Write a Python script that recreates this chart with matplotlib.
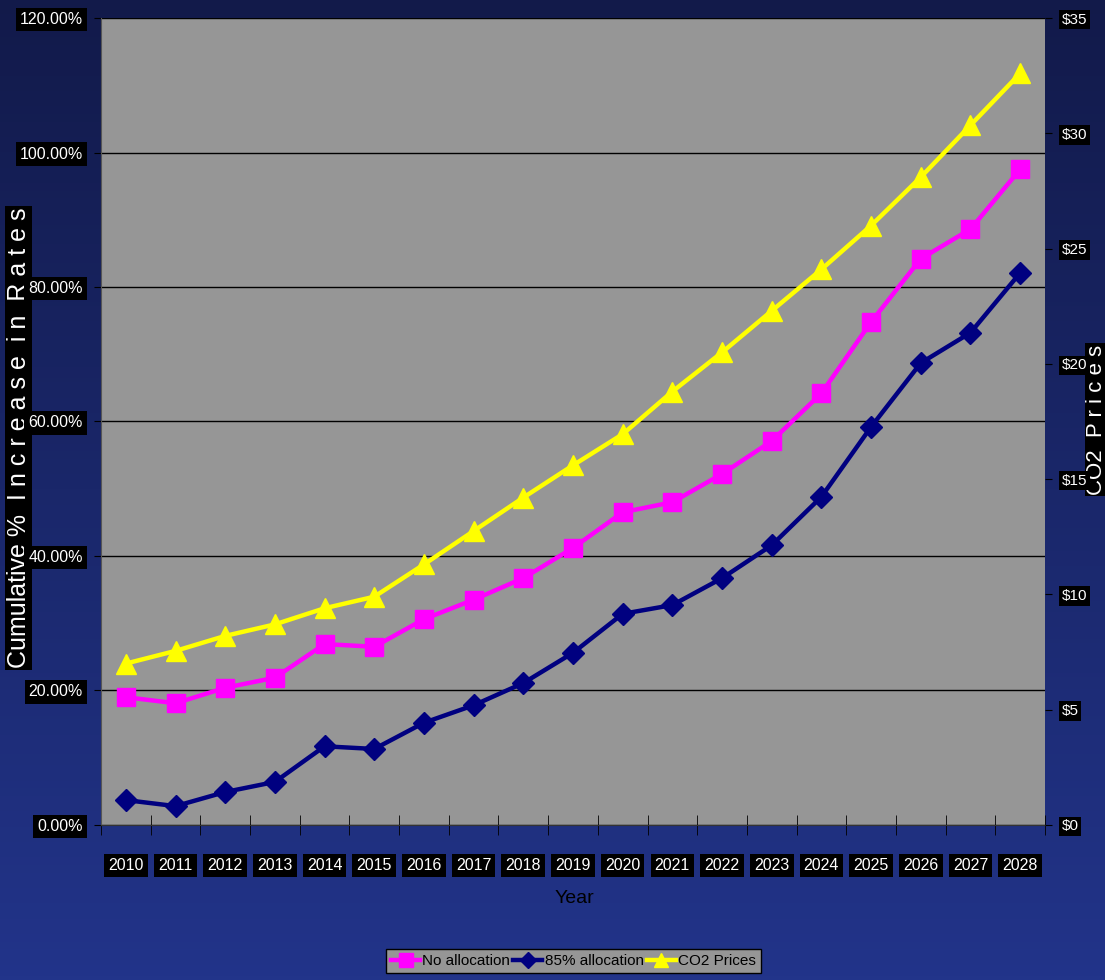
import matplotlib.pyplot as plt
import numpy as np
from matplotlib.colors import LinearSegmentedColormap

plt.rcParams['font.family'] = ['Liberation Sans', 'DejaVu Sans']

# data
years = [str(y) for y in range(2010, 2029)]
no_allocation = [19.0, 18.1, 20.4, 21.9, 26.9, 26.5, 30.6, 33.5, 36.7, 41.2,
                 46.5, 48.0, 52.2, 57.1, 64.2, 74.8, 84.2, 88.6, 97.5]
alloc_85 = [3.7, 2.8, 4.9, 6.4, 11.7, 11.3, 15.2, 17.8, 21.1, 25.6,
            31.4, 32.7, 36.7, 41.6, 48.8, 59.2, 68.7, 73.2, 82.1]
co2_prices = [7.0, 7.55, 8.2, 8.7, 9.4, 9.9, 11.3, 12.75, 14.2, 15.6,
              16.95, 18.8, 20.5, 22.3, 24.1, 26.0, 28.1, 30.35, 32.6]

fig = plt.figure(figsize=(11.05, 9.8), dpi=100)

# gradient background
bg = fig.add_axes([0, 0, 1, 1], zorder=-10)
cmap = LinearSegmentedColormap.from_list('bg', ['#121a4a', '#22348a'])
bg.imshow(np.linspace(0, 1, 256).reshape(-1, 1), aspect='auto', cmap=cmap,
          extent=[0, 1, 0, 1])
bg.set_axis_off()

# axis titles sit under the tick labels
fig.text(0.017, 0.318, 'Cumulative %  I n c r e a s e  i n  R a t e s', rotation=90,
         fontsize=18, color='white', ha='center', va='bottom', zorder=-1,
         bbox=dict(facecolor='black', edgecolor='none', pad=1))
fig.text(0.9925, 0.495, 'CO2  P r i c e s', rotation=90, fontsize=16, color='white',
         ha='center', va='bottom', zorder=-1,
         bbox=dict(facecolor='black', edgecolor='none', pad=1))
fig.text(0.52, 0.083, 'Year', fontsize=14, color='black', ha='center', va='center')

ax = fig.add_axes([0.0914, 0.1582, 0.8543, 0.8234])
ax.set_facecolor('#969696')
x = np.arange(len(years))

ax.plot(x, no_allocation, color='#ff00ff', lw=3.2, marker='s', ms=13, zorder=3)
ax.plot(x, alloc_85, color='#000080', lw=3.2, marker='D', ms=11, zorder=3)

ax2 = ax.twinx()
ax2.plot(x, co2_prices, color='#ffff00', lw=3.2, marker='^', ms=14, zorder=3)

ax.set_xlim(-0.5, len(years) - 0.5)
ax.set_ylim(0, 120)
ax2.set_ylim(0, 35)

ax.set_yticks(np.arange(0, 121, 20))
ax.set_yticklabels([f'{v:.2f}%' for v in range(0, 121, 20)])
ax2.set_yticks(np.arange(0, 36, 5))
ax2.set_yticklabels([f'${v}' for v in range(0, 36, 5)])
ax.yaxis.grid(True, color='black', lw=1)
ax.set_axisbelow(True)

ax.set_xticks(x)
ax.set_xticklabels(years)
ax.set_xticks(np.arange(-0.5, len(years)), minor=True)
ax.tick_params(axis='x', which='major', length=0, pad=24)
ax.tick_params(axis='x', which='minor', length=14, direction='inout', color='black')
ax.tick_params(axis='y', length=5, color='black', pad=8)
ax2.tick_params(axis='y', length=5, color='black', pad=7)

for lab in ax.get_xticklabels() + ax.get_yticklabels():
    lab.set_color('white')
    lab.set_fontsize(11.5)
    lab.set_bbox(dict(facecolor='black', edgecolor='none', pad=3))
for lab in ax2.get_yticklabels():
    lab.set_color('white')
    lab.set_fontsize(11)
    lab.set_bbox(dict(facecolor='black', edgecolor='none', pad=2))

for side in ['top', 'right']:
    ax.spines[side].set_visible(False)
    ax2.spines[side].set_visible(False)
ax.spines['left'].set_color('#555555')
ax.spines['bottom'].set_color('#333333')
ax2.spines['left'].set_visible(False)
ax2.spines['bottom'].set_visible(False)

handles = [
    plt.Line2D([], [], color='#ff00ff', lw=3.2, marker='s', ms=10),
    plt.Line2D([], [], color='#000080', lw=3.2, marker='D', ms=8),
    plt.Line2D([], [], color='#ffff00', lw=3.2, marker='^', ms=10),
]
leg = fig.legend(handles, ['No allocation', '85% allocation', 'CO2 Prices'],
                 loc='center', bbox_to_anchor=(0.519, 0.0195), ncol=3,
                 fontsize=11, frameon=True, fancybox=False, handlelength=1.9,
                 handletextpad=0.15, columnspacing=0.2, borderpad=0.35)
leg.get_frame().set_facecolor('#969696')
leg.get_frame().set_edgecolor('black')
leg.get_frame().set_alpha(1)

fig.savefig('out.png', dpi=100)
